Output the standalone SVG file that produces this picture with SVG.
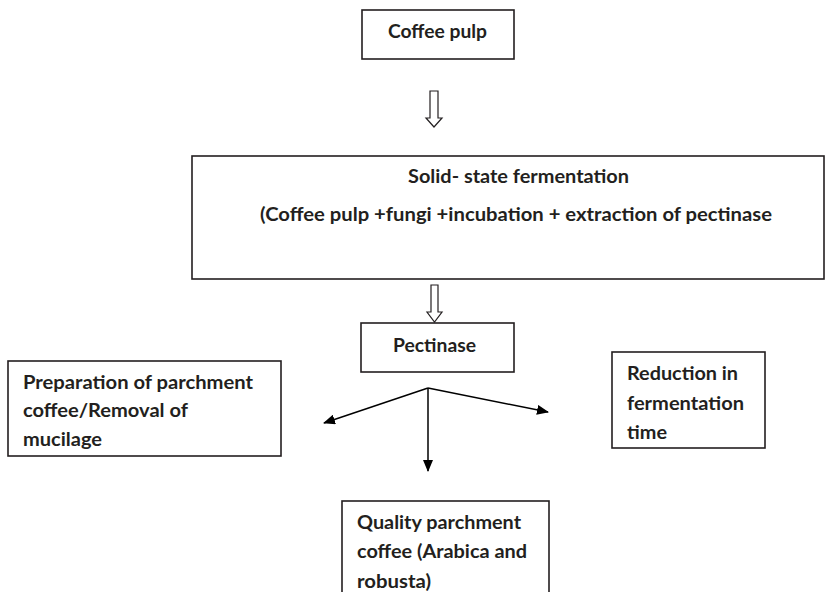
<svg xmlns="http://www.w3.org/2000/svg" width="839" height="592" viewBox="0 0 839 592">
<style>
.box{fill:#fff;stroke:#231f20;stroke-width:1.6}
.t{font-family:Lato,"Open Sans",sans-serif;font-weight:bold;font-size:19.6px;fill:#231f20}
.c{text-anchor:middle}
.hollow{fill:#fff;stroke:#231f20;stroke-width:1.2;stroke-linejoin:miter}
.conn{fill:none;stroke:#000;stroke-width:1.5}
</style>
<defs>
<marker id="ah" viewBox="0 0 12 10" refX="11" refY="5" markerWidth="12" markerHeight="10" markerUnits="userSpaceOnUse" orient="auto">
<path d="M0,0 L12,5 L0,10 Z" fill="#000"/>
</marker>
</defs>
<rect width="839" height="592" fill="#fff"/>
<g id="coffee-pulp">
<rect class="box" x="362" y="10" width="152" height="49"/>
<text class="t c" x="437.5" y="38" textLength="99" lengthAdjust="spacingAndGlyphs">Coffee pulp</text>
</g>
<g id="solid-state">
<rect class="box" x="192" y="156" width="632" height="123"/>
<text class="t c" x="518.5" y="183" textLength="221" lengthAdjust="spacingAndGlyphs">Solid- state fermentation</text>
<text class="t c" x="516" y="221" textLength="512" lengthAdjust="spacingAndGlyphs">(Coffee pulp +fungi +incubation + extraction of pectinase</text>
</g>
<g id="pectinase">
<rect class="box" x="361" y="323" width="153" height="49"/>
<text class="t c" x="434.5" y="352" textLength="83" lengthAdjust="spacingAndGlyphs">Pectinase</text>
</g>
<g id="preparation">
<rect class="box" x="8" y="361" width="273" height="95"/>
<text class="t" x="23" y="389" textLength="230" lengthAdjust="spacingAndGlyphs">Preparation of parchment</text>
<text class="t" x="23" y="417" textLength="165" lengthAdjust="spacingAndGlyphs">coffee/Removal of</text>
<text class="t" x="23" y="446" textLength="79" lengthAdjust="spacingAndGlyphs">mucilage</text>
</g>
<g id="reduction">
<rect class="box" x="612" y="352" width="153" height="96"/>
<text class="t" x="627" y="380" textLength="111" lengthAdjust="spacingAndGlyphs">Reduction in</text>
<text class="t" x="627" y="410" textLength="117" lengthAdjust="spacingAndGlyphs">fermentation</text>
<text class="t" x="627" y="439" textLength="40" lengthAdjust="spacingAndGlyphs">time</text>
</g>
<g id="quality">
<rect class="box" x="342" y="501" width="207" height="100"/>
<text class="t" x="357" y="529" textLength="164" lengthAdjust="spacingAndGlyphs">Quality parchment</text>
<text class="t" x="357" y="558" textLength="170" lengthAdjust="spacingAndGlyphs">coffee (Arabica and</text>
<text class="t" x="357" y="588" textLength="74" lengthAdjust="spacingAndGlyphs">robusta)</text>
</g>
<g id="connectors">
<path class="hollow" d="M430,91 H438 V118 H442 L434,127 L426,118 H430 Z"/>
<path class="hollow" d="M431,285 H438 V312 H442 L434.5,322 L427,312 H431 Z"/>
<line class="conn" x1="428" y1="388" x2="324" y2="423" marker-end="url(#ah)"/>
<line class="conn" x1="428" y1="388" x2="548" y2="412" marker-end="url(#ah)"/>
<line class="conn" x1="428" y1="388" x2="428" y2="471" marker-end="url(#ah)"/>
</g>
</svg>
